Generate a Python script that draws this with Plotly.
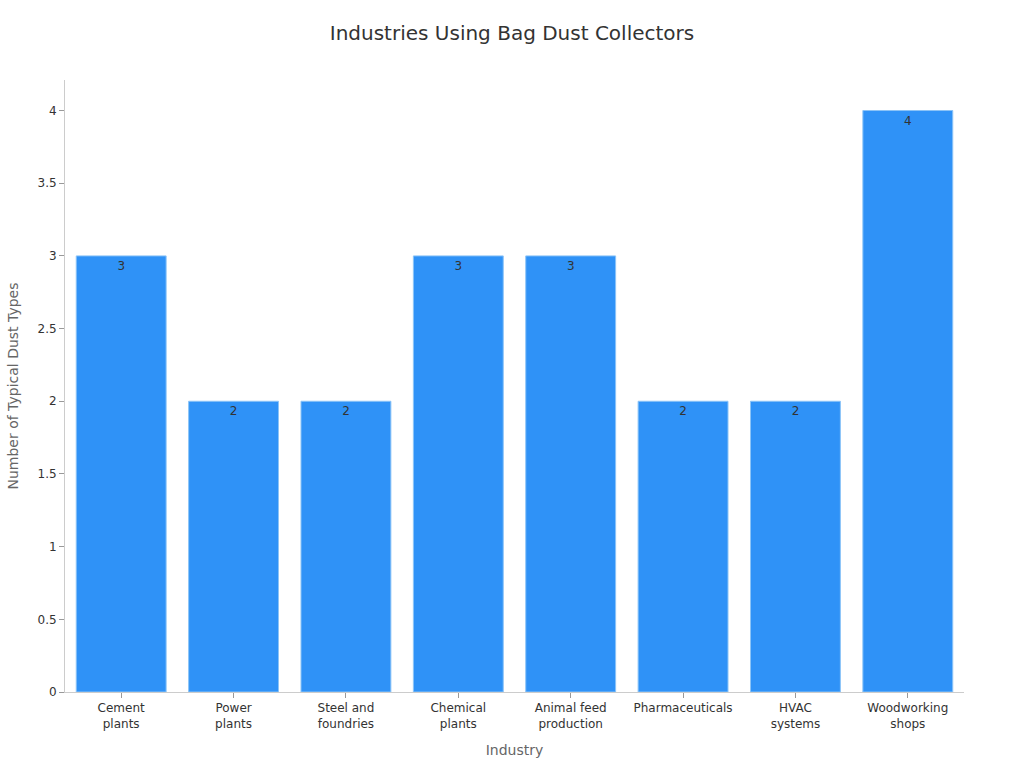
import plotly.graph_objects as go

categories = ["Cement<br>plants", "Power<br>plants", "Steel and<br>foundries", "Chemical<br>plants",
              "Animal feed<br>production", "Pharmaceuticals", "HVAC<br>systems", "Woodworking<br>shops"]
dust_types = [3, 2, 2, 3, 3, 2, 2, 4]

fig = go.Figure(go.Bar(
    x=categories, y=dust_types,
    text=[str(v) for v in dust_types], textposition="inside", insidetextanchor="end",
    textfont=dict(color="#333333", size=12),
    marker=dict(color="#2f92f7", line=dict(color="#8cc4f7", width=1)),
))
fig.update_layout(
    width=1024, height=768,
    margin=dict(l=65, r=60, t=80, b=76),
    paper_bgcolor="white", plot_bgcolor="white",
    font=dict(family="DejaVu Sans", color="#333333", size=12),
    title=dict(text="Industries Using Bag Dust Collectors", x=0.5, xanchor="center", y=0.966,
               font=dict(size=20, color="#333333")),
    bargap=0.2,
    showlegend=False,
)
fig.update_xaxes(title=dict(text="Industry", font=dict(size=14, color="#666666")),
                 showline=True, linecolor="#cccccc", ticks="outside", tickcolor="#999999",
                 ticklen=5, showgrid=False)
fig.update_yaxes(title=dict(text="Number of Typical Dust Types", font=dict(size=14, color="#666666")),
                 range=[0, 4.21], dtick=0.5, showline=True, linecolor="#cccccc", ticks="outside",
                 tickcolor="#999999", ticklen=5, showgrid=False, zeroline=False)
fig.write_html("out.html")
